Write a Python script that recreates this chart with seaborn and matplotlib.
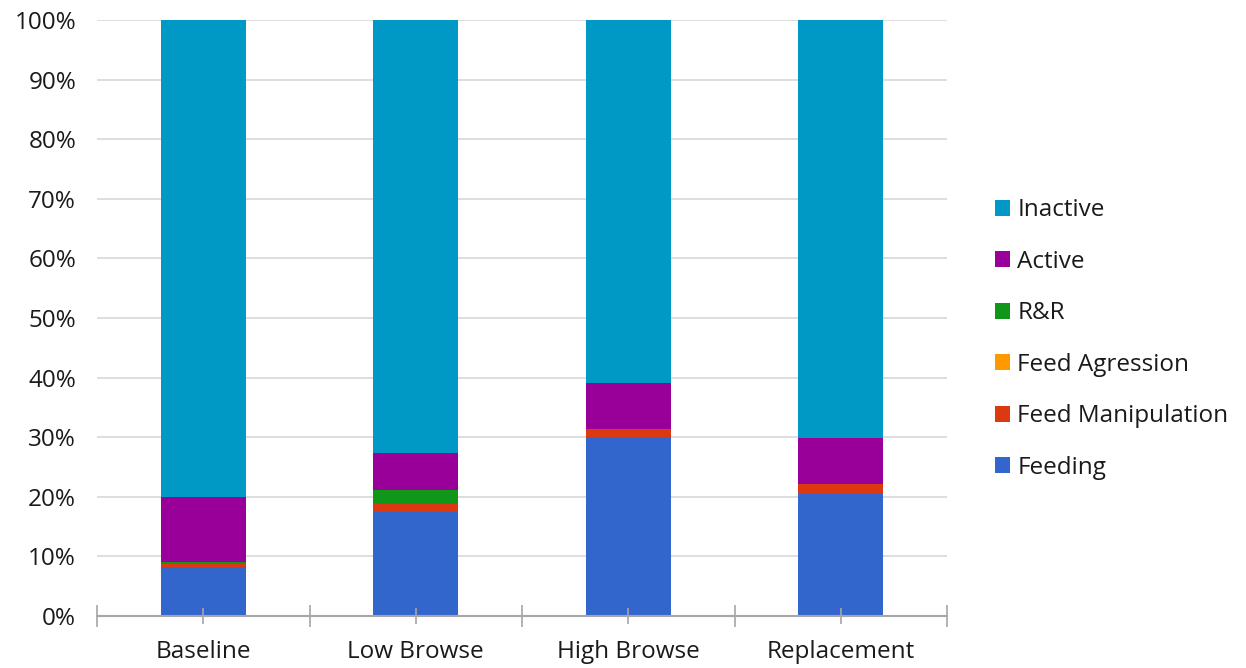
import matplotlib
matplotlib.use("Agg")
import matplotlib.pyplot as plt
import seaborn as sns
import numpy as np
import pandas as pd
from matplotlib.patches import Patch
from matplotlib.ticker import FixedLocator, PercentFormatter

categories = ["Baseline", "Low Browse", "High Browse", "Replacement"]
series_names = ["Feeding", "Feed Manipulation", "Feed Agression", "R&R", "Active", "Inactive"]
feeding = [8.2, 17.5, 30.0, 20.5]
feed_manipulation = [0.5, 1.3, 1.4, 1.6]
feed_agression = [0.0, 0.0, 0.0, 0.0]
r_and_r = [0.3, 2.3, 0.0, 0.0]
active = [10.9, 6.2, 7.7, 7.7]
inactive = [80.1, 72.7, 60.9, 70.2]
colors = ["#3366CC", "#DC3912", "#FF9900", "#109618", "#990099", "#0099C6"]
y_ticks = [0, 10, 20, 30, 40, 50, 60, 70, 80, 90, 100]

sns.set_theme(style="white")
plt.rcParams['font.family'] = ['Open Sans', 'DejaVu Sans']

values = np.array([feeding, feed_manipulation, feed_agression, r_and_r, active, inactive])
cum = np.cumsum(values, axis=0)

fig = plt.figure(figsize=(12.46, 6.68), dpi=100)
ax = fig.add_axes([97/1246, 1 - 616/668, (947 - 97)/1246, (616 - 20)/668])

for i in range(len(series_names) - 1, -1, -1):
    df = pd.DataFrame({"cat": categories, "val": cum[i]})
    sns.barplot(data=df, x="cat", y="val", order=categories, color=colors[i],
                saturation=1, width=0.4, ax=ax, edgecolor="none", linewidth=0, zorder=3)

ax.set_xlim(-0.5, 3.5)
ax.set_ylim(0, 100)
ax.set_yticks(y_ticks)
ax.yaxis.set_major_formatter(PercentFormatter(decimals=0))
ax.grid(axis="y", color="#d4d4d4", linewidth=1.1, zorder=0)
ax.set_axisbelow(True)
ax.set_xlabel("")
ax.set_ylabel("")

for s in ["top", "right", "left"]:
    ax.spines[s].set_visible(False)
ax.spines["bottom"].set_color("#a6a6a6")
ax.spines["bottom"].set_linewidth(1.5)
ax.spines["bottom"].set_zorder(4)

ax.tick_params(axis="y", length=0, pad=15, labelsize=17.5, labelcolor="#1a1a1a")
ax.set_xticks(range(len(categories)))
ax.set_xticklabels(categories)
ax.tick_params(axis="x", which="major", bottom=True, direction="inout", length=12, width=1.2,
               color="#a6a6a6", pad=11, labelsize=17.5, labelcolor="#1a1a1a")
ax.xaxis.set_minor_locator(FixedLocator([-0.5, 0.5, 1.5, 2.5, 3.5]))
ax.tick_params(axis="x", which="minor", bottom=True, direction="inout", length=16, width=1.2,
               color="#a6a6a6")
ax.xaxis.set_zorder(5)

handles = [Patch(facecolor=colors[i], edgecolor="none", label=series_names[i])
           for i in range(len(series_names) - 1, -1, -1)]
fig.legend(handles=handles, loc="center left", bbox_to_anchor=(973/1246, 1 - 339/668),
           frameon=False, fontsize=17.5, handlelength=0.62, handleheight=0.62,
           handletextpad=0.3, labelspacing=1.13, labelcolor="#1a1a1a")

fig.savefig("out.png", dpi=100)
